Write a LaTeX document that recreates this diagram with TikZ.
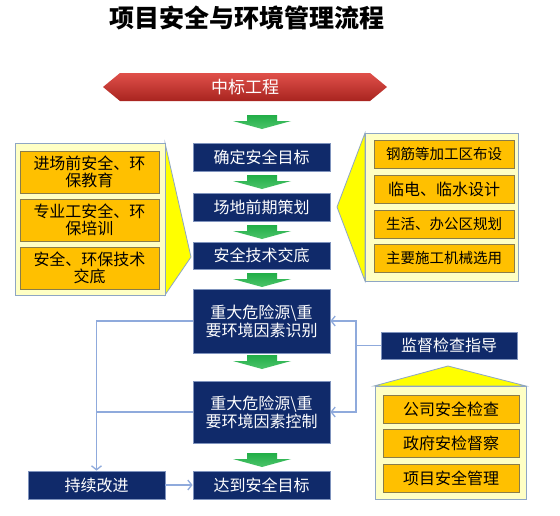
\documentclass[tikz,border=0pt]{standalone}
\usepackage{fontspec}
\newfontfamily\cjk{Noto Sans CJK SC}
\usetikzlibrary{arrows.meta,calc}
\definecolor{navy}{HTML}{102A6A}
\definecolor{navyedge}{HTML}{7F93BD}
\definecolor{orangefill}{HTML}{FFC000}
\definecolor{orangeedge}{HTML}{8A7D4A}
\definecolor{panelfill}{HTML}{FFFFC4}
\definecolor{paneledge}{HTML}{8EA6C4}
\definecolor{yel}{HTML}{FFFF00}
\definecolor{conncol}{HTML}{8FAADC}
\definecolor{grn}{HTML}{22AE48}
\definecolor{grnlight}{HTML}{4CC46A}
\definecolor{redtop}{HTML}{E0504A}
\definecolor{redbot}{HTML}{A8241F}
\tikzset{
  bluebox/.style={draw=navyedge, line width=0.8pt, fill=navy, text=white, minimum width=137, minimum height=28, inner sep=0pt, align=center, font=\cjk\fontsize{16}{18}\selectfont},
  orbox/.style={draw=orangeedge, line width=0.8pt, fill=orangefill, text=black, minimum width=139, minimum height=28, inner sep=0pt, align=center, font=\cjk\fontsize{16}{17.5}\selectfont},
  panel/.style={draw=paneledge, line width=0.9pt, fill=panelfill},
  tri/.style={draw=paneledge, line width=0.8pt, fill=yel},
  conn/.style={draw=conncol, line width=1.3pt},
  arr/.style={conn, -{Straight Barb[length=4pt,width=10pt]}}
}
\newcommand\greenarrow[2]{%
  \begin{scope}[shift={(#1,#2)}]
    \shade[top color=grn, bottom color=grnlight] (-15,0) -- (15,0) -- (15,6) -- (29,6) -- (0,14) -- (-29,6) -- (-15,6) -- cycle;
  \end{scope}}
\begin{document}
\begin{tikzpicture}[x=1pt,y=-1pt]
\useasboundingbox (0,0) rectangle (560,515);
\fill[white] (0,0) rectangle (560,515);

% title
\node[font=\cjk\bfseries\fontsize{25}{25}\selectfont, inner sep=0pt] (title) at (247,18) {项目安全与环境管理流程};

% red banner
\shade[top color=redtop, bottom color=redbot] (103,87) -- (120,73) -- (370,73) -- (387,87) -- (370,101) -- (120,101) -- cycle;
\node[text=white, font=\cjk\fontsize{17}{17}\selectfont, inner sep=0pt] (start) at (245,87) {中标工程};

% green arrows
\greenarrow{262}{115}
\greenarrow{262}{175}
\greenarrow{262}{225}
\greenarrow{262}{273}
\greenarrow{262}{355}
\greenarrow{262}{453}

% main boxes
\node[bluebox] (b1) at (261.5,157) {确定安全目标};
\node[bluebox] (b2) at (261.5,207) {场地前期策划};
\node[bluebox, minimum height=27] (b3) at (261.5,255.5) {安全技术交底};
\node[bluebox, minimum height=64] (b4) at (261.5,321) {重大危险源\textbackslash 重\\要环境因素识别};
\node[bluebox, minimum height=62] (b5) at (261.5,412) {重大危险源\textbackslash 重\\要环境因素控制};
\node[bluebox] (b6) at (261.5,485) {达到安全目标};
\node[bluebox] (b7) at (96.5,485) {持续改进};
\node[bluebox, minimum width=136, minimum height=27] (b8) at (449,345.5) {监督检查指导};

% left panel
\path[tri] (165,143) -- (191,257) -- (165,295) -- cycle;
\path[panel] (15,143) rectangle (165,295);
\node[orbox, minimum height=42] (l1) at (89.5,172) {进场前安全、环\\保教育};
\node[orbox, minimum height=42] (l2) at (89.5,220) {专业工安全、环\\保培训};
\node[orbox, minimum height=42] (l3) at (89.5,268) {安全、环保技术\\交底};

% right panel
\path[tri] (365,133) -- (337,207) -- (365,281) -- cycle;
\path[panel] (365,133) rectangle (518,281);
\node[orbox, minimum width=140, font=\cjk\fontsize{14.5}{15}\selectfont] (r1) at (444,154) {钢筋等加工区布设};
\node[orbox, minimum width=140] (r2) at (444,189) {临电、临水设计};
\node[orbox, minimum width=140, font=\cjk\fontsize{14.5}{15}\selectfont] (r3) at (444,224) {生活、办公区规划};
\node[orbox, minimum width=140, font=\cjk\fontsize{14.5}{15}\selectfont] (r4) at (444,258.5) {主要施工机械选用};

% house
\path[tri] (374,386) -- (448,366) -- (526,386) -- cycle;
\path[panel] (375,386) rectangle (526,499);
\node[orbox, minimum width=136] (h1) at (451,409) {公司安全检查};
\node[orbox, minimum width=136] (h2) at (451,443) {政府安检督察};
\node[orbox, minimum width=136] (h3) at (451,478) {项目安全管理};

% connectors
\draw[arr] (b4.west) -| (b7.north);
\draw[conn] (b5.west) -- (b5.west -| b7.north);
\draw[arr] (b7) -- (b6);
\coordinate (j) at (356,345.5);
\draw[conn] (b8.west) -- (j);
\draw[arr] (j) |- (b4.east);
\draw[arr] (j) |- (b5.east);
\end{tikzpicture}
\end{document}
